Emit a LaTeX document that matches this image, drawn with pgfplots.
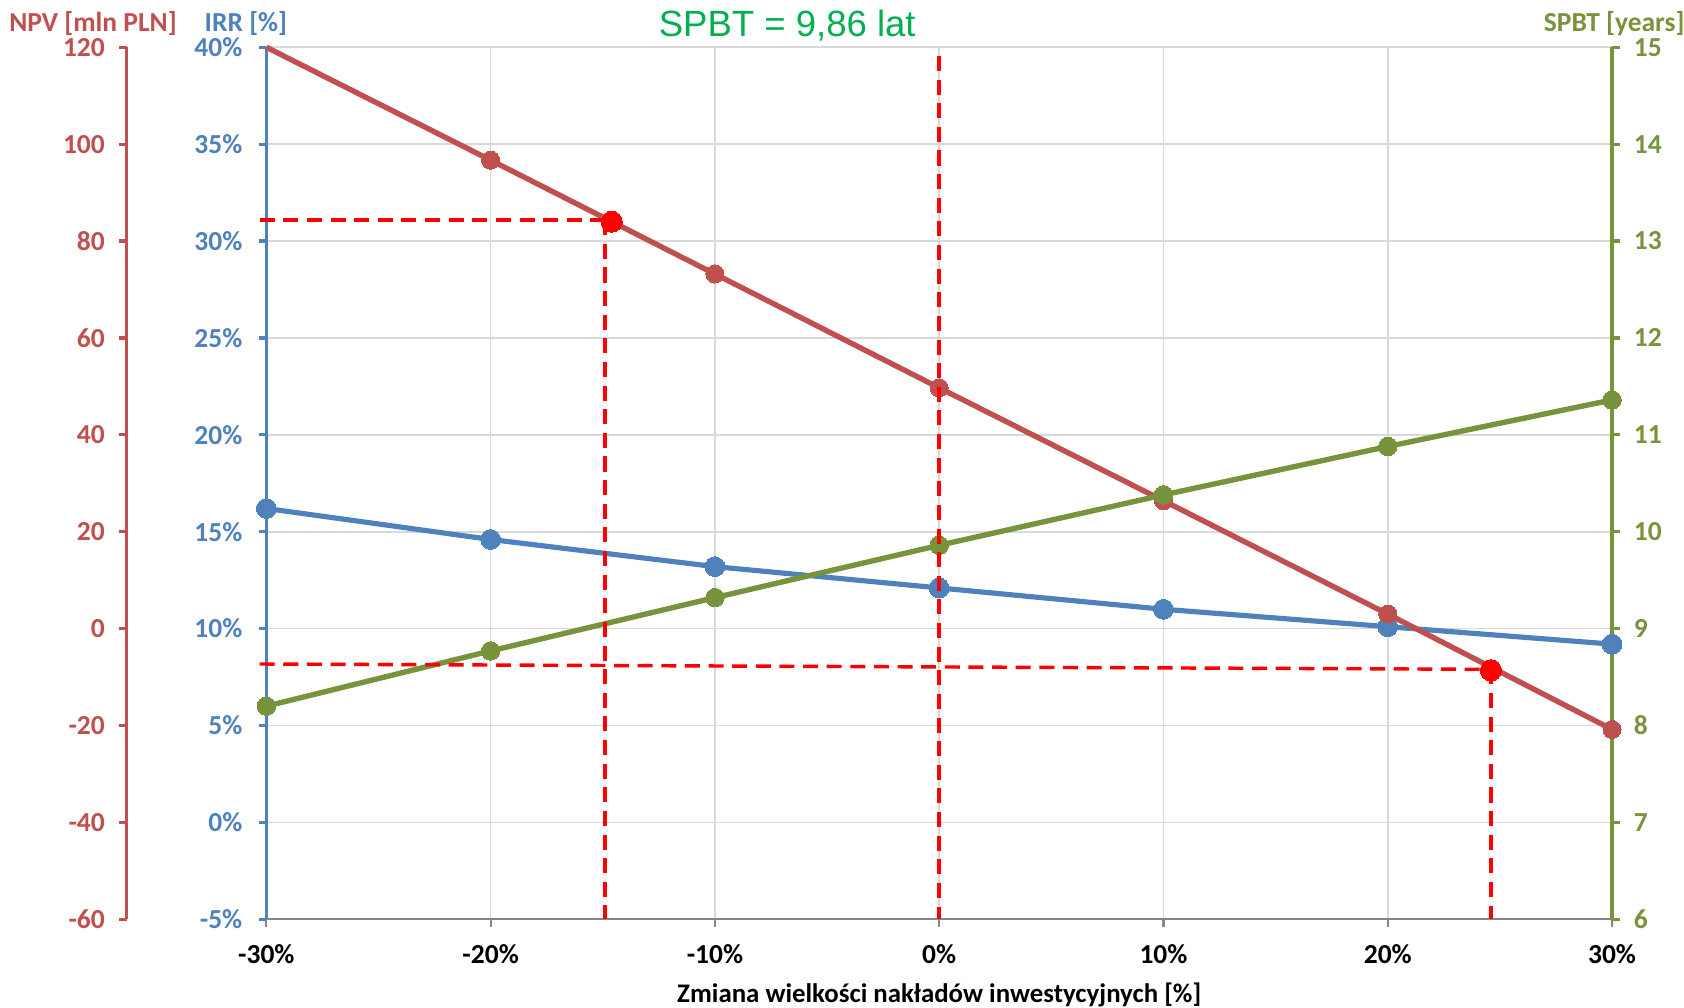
\documentclass[border=0pt]{standalone}
\usepackage{pgfplots}
\pgfplotsset{compat=1.18}
\usepackage{fontspec}
\setmainfont{Carlito}
\newfontfamily\arialfont{Liberation Sans}
\definecolor{npvred}{HTML}{C0504D}
\definecolor{irrblue}{HTML}{4F81BD}
\definecolor{spbtgreen}{HTML}{77933C}
\definecolor{titlegreen}{HTML}{00B050}
\definecolor{gridgray}{HTML}{D9D9D9}
\definecolor{axisgray}{HTML}{868686}
\pgfplotsset{
  base/.style={
    at={(124pt,41pt)}, anchor=south west,
    width=626.5pt, height=406pt, scale only axis,
    xmin=-30, xmax=30, clip=false, set layers,
    tick align=outside, major tick length=3.5pt,
    ticklabel style={font=\fontsize{12.8}{15}\selectfont\bfseries},
  },
}
\begin{document}
\begin{tikzpicture}
% IRR axis (main, with grid)
\begin{axis}[base,
  ymin=-5, ymax=40,
  axis x line*=bottom, axis y line*=left,
  xtick={-30,-20,-10,0,10,20,30},
  xticklabels={-30\%,-20\%,-10\%,0\%,10\%,20\%,30\%},
  ytick={-5,0,5,10,15,20,25,30,35,40},
  yticklabels={-5\%,0\%,5\%,10\%,15\%,20\%,25\%,30\%,35\%,40\%},
  grid=major, major grid style={gridgray, line width=0.8pt},
  x axis line style={axisgray, line width=1pt},
  y axis line style={irrblue, line width=1.5pt},
  xtick style={axisgray, line width=1pt},
  ytick style={irrblue, line width=1.5pt},
  xticklabel style={black, anchor=center, yshift=-12.5pt},
  yticklabel style={irrblue, anchor=east, inner sep=0pt, xshift=-7.5pt},
  xlabel={Zmiana wielkości nakładów inwestycyjnych [\%]},
  xlabel style={font=\fontsize{12.5}{15}\selectfont\bfseries, black, at={(axis description cs:0.5,0)}, anchor=center, yshift=-35pt},
]
\addplot[irrblue, line width=2.4pt, mark=*, mark size=4.6pt, mark options={fill=irrblue, draw=irrblue, line width=0pt}] coordinates {
  (-30,16.2) (-20,14.6) (-10,13.2) (0,12.1) (10,11.0) (20,10.1) (30,9.2)
};
\end{axis}
% NPV axis
\begin{axis}[base,
  ymin=-60, ymax=120,
  hide x axis, axis y line*=left,
  ytick={-60,-40,-20,0,20,40,60,80,100,120},
  yticklabels={-60,-40,-20,0,20,40,60,80,100,120},
  y axis line style={npvred, line width=1.5pt, xshift=-65pt},
  ytick style={npvred, line width=1.5pt, xshift=-65pt},
  yticklabel style={npvred, anchor=east, inner sep=0pt, xshift=-71.5pt},
]
\addplot[npvred, line width=2.5pt] coordinates {
  (-30,120) (-20,96.7) (-10,73.2) (0,49.7) (10,26.4) (20,3.0) (30,-20.8)
};
\addplot[only marks, mark=*, mark size=4.2pt, mark options={fill=npvred, draw=npvred, line width=0pt}] coordinates {
  (-20,96.7) (-10,73.2) (0,49.7) (10,26.4) (20,3.0) (30,-20.8)
};
\end{axis}
% SPBT axis
\begin{axis}[base,
  ymin=6, ymax=15,
  hide x axis, axis y line*=right,
  ytick={6,7,8,9,10,11,12,13,14,15},
  yticklabels={6,7,8,9,10,11,12,13,14,15},
  y axis line style={spbtgreen, line width=1.5pt},
  ytick style={spbtgreen, line width=1.5pt},
  yticklabel style={spbtgreen, anchor=west, inner sep=0pt, xshift=6.5pt},
]
\addplot[spbtgreen, line width=2.5pt, mark=*, mark size=4.3pt, mark options={fill=spbtgreen, draw=spbtgreen, line width=0pt}] coordinates {
  (-30,8.20) (-20,8.77) (-10,9.32) (0,9.86) (10,10.38) (20,10.88) (30,11.36)
};
\end{axis}
% highlight lines (NPV coordinates)
\begin{axis}[base, ymin=-60, ymax=120, hide axis]
\addplot[red, line width=1.6pt, dash pattern=on 7pt off 4pt] coordinates {(-30.3,84.3) (-14.9,84.3)};
\addplot[red, line width=1.6pt, dash pattern=on 7pt off 4pt] coordinates {(-14.9,84.3) (-14.9,-60)};
\addplot[red, line width=1.6pt, dash pattern=on 7pt off 4pt] coordinates {(-30.3,-7.3) (24.6,-8.4)};
\addplot[red, line width=1.6pt, dash pattern=on 7pt off 4pt] coordinates {(24.6,-8.4) (24.6,-60)};
\addplot[red, line width=1.8pt, dash pattern=on 7pt off 4pt] coordinates {(0,118.2) (0,-60)};
\addplot[only marks, mark=*, mark size=4.9pt, mark options={fill=red, draw=red, line width=0pt}] coordinates {(-14.6,84.0) (24.6,-8.6)};
\end{axis}
\node[npvred, inner sep=0pt, font=\fontsize{12.8}{15}\selectfont\bfseries] at (43.3pt,458pt) {NPV [mln PLN]};
\node[irrblue, inner sep=0pt, font=\fontsize{12.8}{15}\selectfont\bfseries] at (114.5pt,458pt) {IRR [\%]};
\node[spbtgreen, inner sep=0pt, font=\fontsize{12.8}{15}\selectfont\bfseries] at (751.5pt,458pt) {SPBT [years]};
\node[titlegreen, inner sep=0pt, font=\arialfont\fontsize{17}{20}\selectfont] at (366.5pt,457pt) {SPBT = 9,86 lat};
\pgfresetboundingbox
\useasboundingbox (0,0) rectangle (784pt,469pt);
\end{tikzpicture}
\end{document}
